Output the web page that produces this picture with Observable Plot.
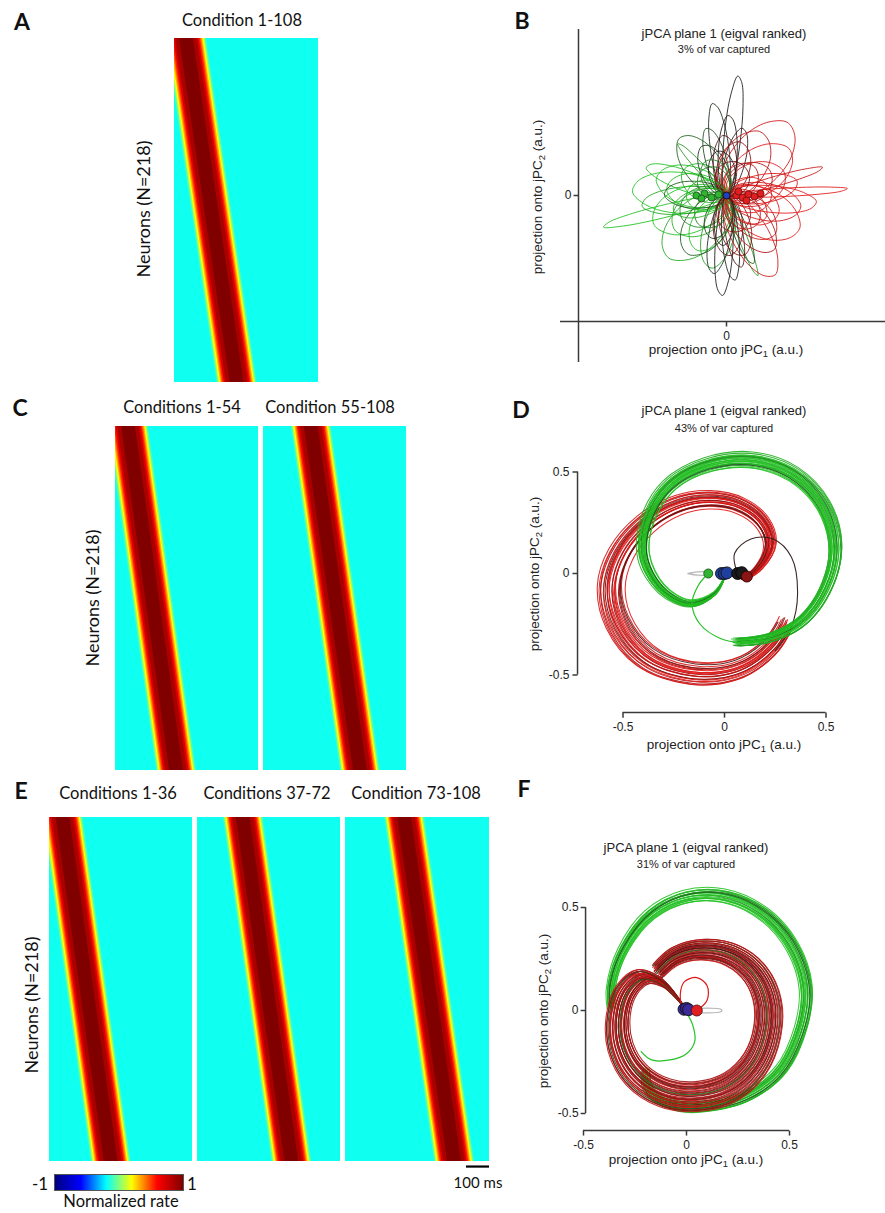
<!DOCTYPE html>
<html><head><meta charset="utf-8">
<script src="https://cdn.jsdelivr.net/npm/d3@7"></script>
<script src="https://cdn.jsdelivr.net/npm/@observablehq/plot@0.6"></script>
<style>
body{margin:0;background:#fff;}
#fig{position:relative;width:885px;height:1213px;overflow:hidden;background:#fff;font-family:"Liberation Sans",Arial,sans-serif;color:#111;}
.t{position:absolute;transform:translate(-50%,-50%);white-space:nowrap;line-height:1;}
.cal{font-family:Lato,"Open Sans",sans-serif;}
.hel{font-family:"Liberation Sans",Arial,sans-serif;color:#222;}
.letter{font-family:Lato,sans-serif;font-weight:bold;font-size:23px;}
.rot{transform:translate(-50%,-50%) rotate(-90deg);}
sub{font-size:70%;vertical-align:-0.3em;line-height:0;}
</style></head><body><div id="fig"></div>
<script>
// ---------------- DATA ----------------
// Heatmaps (A, C, E)
const heatTitles = ["Condition 1-108","Conditions 1-54","Condition 55-108","Conditions 1-36","Conditions 37-72","Condition 73-108"];
const bandCenterFirstNeuronMs = [52, 57, 209, 59, 200, 257];
const bandCenterLastNeuronMs  = [272, 267, 424, 270, 413, 474];
const neuronCount = 218;
const windowMs = 626;
const backgroundRate = -0.22;
const bandRateLevels = [-0.1, 0.1, 0.25, 0.4, 0.55, 0.7, 0.82, 0.92, 1.0];
const bandHalfWidthMs = [87, 81, 76, 71, 66, 61, 55, 47, 30];
const scaleBarMs = 100;
const colorbarLimits = [-1, 1];

// jPCA panel text
const jpcaTitle = "jPCA plane 1 (eigval ranked)";
const varCaptured = ["3%", "43%", "31%"];
const jpcaTicks = [-0.5, 0, 0.5];
const jpcaTicksB = [0];

// Panel B: petal-shaped loops [angle deg, length, half-width fraction, colour tone (-1 green .. 0 black .. 1 red)]
const petalTemplate = [[0,0],[0.08,0.55],[0.3,0.92],[0.6,1.0],[0.85,0.72],[1.0,0.15],[0.95,-0.4],[0.75,-0.85],[0.45,-0.95],[0.18,-0.7],[0.02,-0.25],[0,0]];
const petalsB = [
 [194,1.27,0.05,-1],[176,0.94,0.22,-1],[165,0.72,0.28,-1],[186,0.85,0.16,-0.85],[200,0.78,0.3,-1],
 [212,0.62,0.35,-0.9],[225,0.85,0.3,-0.85],[240,0.62,0.3,-1],[257,0.74,0.22,-0.8],[291,0.86,0.05,-0.75],
 [133,0.71,0.06,-0.7],[150,0.5,0.35,-0.9],[172,0.6,0.3,-0.95],[205,0.5,0.4,-0.7],[160,0.85,0.12,-1],
 [84,1.2,0.07,0],[98,0.93,0.1,-0.1],[76,0.69,0.15,0.1],[106,0.7,0.15,-0.3],[128,0.74,0.25,-0.45],
 [267,1.0,0.09,0],[260,0.79,0.14,-0.15],[281,0.73,0.12,0.2],[235,0.7,0.3,-0.4],[178,0.62,0.22,-0.35],
 [291,0.73,0.1,-0.3],[92,0.6,0.2,0.25],[115,0.55,0.25,-0.2],[272,0.6,0.25,0.3],
 [3,1.21,0.035,1],[16,1.0,0.05,0.85],[48,0.95,0.28,0.9],[334,0.8,0.3,1],[300,0.93,0.2,0.9],
 [60,0.72,0.32,0.8],[35,0.78,0.3,1],[20,0.62,0.35,0.95],[10,0.72,0.2,1],[350,0.75,0.25,0.9],
 [340,0.55,0.35,1],[320,0.62,0.3,0.85],[310,0.72,0.25,0.7],[75,0.55,0.3,0.5],[285,0.62,0.25,0.5],
 [355,0.9,0.15,1],[28,0.5,0.4,0.75],
 [45,0.4,0.4,0.7],[135,0.35,0.45,-0.5],[225,0.4,0.4,-0.6],[315,0.42,0.4,0.8],[100,0.45,0.3,0],
 [250,0.45,0.3,-0.2],[0,0.45,0.4,1],[180,0.4,0.4,-1],[70,0.35,0.5,0.3],[290,0.38,0.45,0.6],
 [195,0.55,0.25,-0.9],[330,0.45,0.35,0.9],[120,0.4,0.35,-0.6],[265,0.5,0.2,0.1],[88,0.8,0.12,0.05],
 [275,0.85,0.1,-0.05]
];
const greenStartsB = [[-0.3,0.0],[-0.22,0.02],[-0.15,-0.02],[-0.08,0.01],[-0.25,-0.03]];
const redStartsB = [[0.1,0.0],[0.16,-0.02],[0.22,0.01],[0.28,-0.01],[0.34,0.02],[0.12,0.04],[0.2,-0.05]];
const blueStartB = [[0,0]];

// Panel D: trajectory templates (jPC1, jPC2) and trials [scale, rotation deg, tone]
const greenPathD = [[0.0,-0.02],[-0.05,-0.1],[-0.17,-0.15],[-0.31,-0.08],[-0.40,0.08],[-0.38,0.27],[-0.27,0.44],[-0.08,0.54],[0.15,0.56],[0.36,0.48],[0.50,0.32],[0.55,0.12],[0.50,-0.08],[0.38,-0.24],[0.22,-0.32],[0.06,-0.34]];
const redPathD = [[0.1,-0.03],[0.18,0.03],[0.24,0.15],[0.2,0.27],[0.08,0.36],[-0.08,0.39],[-0.25,0.36],[-0.42,0.26],[-0.55,0.1],[-0.6,-0.08],[-0.55,-0.28],[-0.4,-0.45],[-0.15,-0.53],[0.08,-0.5],[0.25,-0.38],[0.32,-0.27]];
const greenSoloD = [[-0.08,0.0],[-0.13,-0.06],[-0.16,-0.15],[-0.12,-0.25],[-0.02,-0.32],[0.08,-0.34],[0.2,-0.33]];
const blackSoloD = [[0.25,-0.38],[0.33,-0.26],[0.36,-0.1],[0.33,0.08],[0.24,0.17],[0.13,0.17],[0.05,0.1],[0.06,0.01]];
const grayLoopD = [[-0.18,0],[-0.13,0.008],[-0.07,0.004],[-0.07,-0.004],[-0.13,-0.008],[-0.18,0]];
const greenTrialsD = [[0.93,-2,-1],[0.94,1,-1],[0.95,3,-0.9],[0.96,-1,-1],[0.97,2,-1],[0.97,-3,-0.8],[0.98,0,-1],[0.99,1,-0.6],[1.0,-2,-1],[1.0,2,-1],[1.01,0,-0.9],[1.02,-1,-1],[1.02,3,-0.5],[1.03,1,-1],[1.04,-2,-1],[1.05,0,-0.85],[0.95,0,-0.3],[0.99,-3,-1],[1.01,4,-1],[0.96,2,-0.95],[1.03,-3,-0.7],[0.98,4,-1],[0.94,-4,-1],[1.06,2,-0.9]];
const redTrialsD = [[0.82,2,1],[0.84,-3,0.9],[0.86,1,1],[0.88,4,0.6],[0.89,-2,1],[0.9,0,1],[0.91,3,0.8],[0.92,-1,1],[0.93,2,0.5],[0.94,-4,1],[0.95,1,1],[0.96,-2,0.9],[0.97,3,1],[0.98,0,0.3],[0.99,-1,1],[1.0,2,0.8],[1.01,-3,1],[1.02,1,0.6],[1.03,0,1],[0.85,-2,0.2],[0.92,4,1],[0.96,-1,0.7],[1.04,-2,0.9],[0.87,3,0.4]];
const greenDotD = [[-0.08,0]];
const blueDotsD = [[-0.015,0],[0.0,0],[0.012,0.003]];
const blackDotsD = [[0.065,0],[0.085,0.004]];
const redDotD = [[0.11,-0.015]];

// Panel F
const greenPathF = [[-0.2,-0.3],[-0.18,-0.4],[-0.05,-0.47],[0.12,-0.47],[0.3,-0.42],[0.46,-0.3],[0.56,-0.1],[0.59,0.1],[0.53,0.3],[0.4,0.46],[0.2,0.56],[0.0,0.56],[-0.18,0.47],[-0.31,0.3],[-0.37,0.12],[-0.37,0.02]];
const redPathF = [[0.0,0.0],[-0.06,0.08],[-0.14,0.16],[-0.24,0.19],[-0.33,0.12],[-0.38,-0.02],[-0.37,-0.2],[-0.28,-0.36],[-0.12,-0.46],[0.06,-0.48],[0.24,-0.43],[0.38,-0.3],[0.45,-0.12],[0.45,0.06],[0.38,0.21],[0.25,0.31],[0.08,0.34],[-0.07,0.3],[-0.16,0.22]];
const redLoopF = [[0.05,0],[0.1,0.05],[0.1,0.12],[0.05,0.16],[-0.01,0.14],[-0.03,0.08],[-0.02,0.02],[0.0,0.0]];
const greenSoloF = [[0.0,-0.01],[0.03,-0.07],[0.04,-0.15],[0.0,-0.21],[-0.08,-0.24],[-0.17,-0.24],[-0.22,-0.2]];
const grayLoopF = [[-0.03,0],[0.05,0.01],[0.17,0.004],[0.17,-0.004],[0.05,-0.01],[-0.03,0]];
const greenTrialsF = [[0.93,1,-1],[0.94,-2,-1],[0.95,2,-0.9],[0.96,0,-1],[0.97,-1,-1],[0.97,3,-0.7],[0.98,1,-1],[0.99,-2,-1],[1.0,0,-1],[1.0,2,-0.8],[1.01,-1,-1],[1.02,1,-1],[1.02,-3,-0.6],[1.03,0,-1],[1.04,2,-1],[0.96,-3,-0.95],[0.99,3,-1],[1.01,-2,-0.4],[0.95,0,-1],[1.03,-1,-0.9]];
const redTrialsF = [[0.72,2,0.6],[0.73,-3,0.85],[0.74,1,0.4],[0.75,4,0.7],[0.76,-1,0.9],[0.77,2,0.5],[0.78,-2,0.8],[0.79,0,0.2],[0.8,3,0.9],[0.81,-4,0.5],[0.82,1,0.85],[0.83,-1,0.3],[0.84,2,0.7],[0.85,-3,0.55],[0.86,0,0.9],[0.87,4,0.35],[0.88,-2,0.85],[0.89,1,0.6],[0.9,-1,0.1],[0.91,3,0.9],[0.92,-2,0.45],[0.93,0,0.8],[0.94,2,0.65],[0.95,-3,0.25],[0.96,1,0.85],[0.97,-1,0.5],[0.98,2,0.9],[0.99,0,-0.3],[1.0,-2,0.7],[1.01,1,0.45],[1.02,-1,0.8],[0.85,3,-0.5],[0.77,-4,0.4],[0.9,4,0.55]];
const blueDotsF = [[-0.012,0.006],[0.0,0.01],[0.01,0.004]];
const redDotF = [[0.05,0]];

// ---------------- STYLES / LAYOUT ----------------
const jet = {type:"linear", domain:[-1,-0.75,-0.25,0.25,0.75,1], range:["#000080","#0000ff","#00ffff","#ffff00","#ff0000","#800000"], interpolate:"rgb"};
const toneColor = {type:"linear", domain:[-1,-0.5,0,0.5,1], range:["#22c222","#246e24","#1c1c1c","#8e1212","#e01a1a"], interpolate:"rgb"};
const heatLayout = [
  {x:174,y:38,w:144,h:344},
  {x:115,y:426,w:143,h:344},{x:263,y:426,w:143,h:344},
  {x:49,y:817,w:143,h:344},{x:197,y:817,w:143,h:344},{x:345,y:817,w:144,h:344}
];
const fig = document.getElementById("fig");
function put(el, x, y){ el.style.position="absolute"; el.style.left=x+"px"; el.style.top=y+"px"; fig.appendChild(el); return el; }
function label(html, x, y, cls, css){ const d=document.createElement("div"); d.className="t "+(cls||""); d.innerHTML=html; d.style.left=x+"px"; d.style.top=y+"px"; if(css) d.style.cssText += css; fig.appendChild(d); return d; }

// ---------------- HEATMAPS ----------------
function heatmap(i, withScaleBar){
  const L = heatLayout[i];
  const rows = [];
  bandRateLevels.forEach((v,k)=>{
    rows.push({n:0, lo:bandCenterFirstNeuronMs[i]-bandHalfWidthMs[k], hi:bandCenterFirstNeuronMs[i]+bandHalfWidthMs[k], v, k});
    rows.push({n:neuronCount, lo:bandCenterLastNeuronMs[i]-bandHalfWidthMs[k], hi:bandCenterLastNeuronMs[i]+bandHalfWidthMs[k], v, k});
  });
  const marks = [
    Plot.rect([{v:backgroundRate}], {x1:0, x2:windowMs, y1:0, y2:neuronCount, fill:"v"}),
    Plot.areaX(rows, {y:"n", x1:"lo", x2:"hi", fill:"v", z:"k", clip:true})
  ];
  if (withScaleBar) {
    marks.push(Plot.ruleY([neuronCount + 3.2], {x1: windowMs - scaleBarMs, x2: windowMs, stroke:"#000", strokeWidth:2.2}));
    marks.push(Plot.text([`${scaleBarMs} ms`], {x: windowMs - scaleBarMs/2, y: neuronCount, dy: 22, text: d=>d, fontSize: 15, fill:"#111", fontFamily:"Lato"}));
  }
  const svg = Plot.plot({
    width: L.w, height: L.h + (withScaleBar ? 40 : 0), marginTop:0, marginLeft:0, marginRight:0, marginBottom: withScaleBar ? 40 : 0,
    x:{domain:[0, windowMs], axis:null},
    y:{domain:[0, neuronCount], reverse:true, axis:null},
    color: jet,
    style:{overflow:"visible", background:"transparent"},
    marks
  });
  put(svg, L.x, L.y);
}
heatLayout.forEach((L,i)=>heatmap(i, i===5));

// heatmap titles & labels
const titlePos = [[242,20],[182,407],[330,407],[118,793],[267,793],[416,793]];
heatTitles.forEach((t,i)=>label(t, titlePos[i][0], titlePos[i][1], "cal", "font-size:16.5px;"));
[[143,209],[92,598],[31,1005]].forEach(([x,y])=>label("Neurons (N=218)", x, y, "cal rot", "font-size:18px;"));

// colorbar legend
const cb = Plot.legend({color: jet, legend:"ramp", width:128, height:15, marginTop:0, marginBottom:0, marginLeft:0, marginRight:0, ticks:0, tickSize:0, label:null});
const cbWrap = document.createElement("div");
cbWrap.style.cssText = "width:128px;height:15px;overflow:hidden;outline:1px solid #555;";
cbWrap.appendChild(cb);
put(cbWrap, 55, 1175);
label(String(colorbarLimits[0]), 40, 1183, "cal", "font-size:17px;");
label(String(colorbarLimits[1]), 192, 1183, "cal", "font-size:17px;");
label("Normalized rate", 121, 1201, "cal", "font-size:16.5px;");

// ---------------- TRAJECTORIES ----------------
function buildTrials(template, trials, prefix){
  const rows = [];
  trials.forEach(([s, rot, tone], i) => {
    const a = rot*Math.PI/180, c = Math.cos(a), sn = Math.sin(a);
    template.forEach(([u,v]) => rows.push({id: prefix+i, tone, u: s*(u*c - v*sn), v: s*(u*sn + v*c)}));
  });
  return rows;
}
function buildPath(template, tone, id){ return template.map(([u,v])=>({id, tone, u, v})); }
function buildPetals(petals){
  const rows = [];
  petals.forEach(([ang, len, w, tone], i) => {
    const a = ang*Math.PI/180, c = Math.cos(a), sn = Math.sin(a);
    petalTemplate.forEach(([p,q]) => { const x = p*len, y = q*w*len; rows.push({id:"p"+i, tone, u: x*c - y*sn, v: x*sn + y*c}); });
  });
  return rows;
}
function axesMarks(ax){
  const st = {stroke:"#3a3a3a", strokeWidth:1.5};
  return [
    Plot.ruleX([ax.yAxisU], {y1: ax.yLine[0], y2: ax.yLine[1], ...st}),
    Plot.ruleY([ax.xAxisV], {x1: ax.xLine[0], x2: ax.xLine[1], ...st}),
    Plot.link(ax.xTicks, {x1: d=>d, x2: d=>d, y1: ax.xAxisV, y2: ax.xAxisV - ax.tick, ...st}),
    Plot.link(ax.yTicks, {y1: d=>d, y2: d=>d, x1: ax.yAxisU, x2: ax.yAxisU - ax.tick, ...st}),
    Plot.text(ax.xTicks, {x: d=>d, y: ax.xAxisV, dy: ax.xdy, text: d=>String(d), fontSize: 12, fill:"#222"}),
    Plot.text(ax.yTicks, {x: ax.yAxisU, y: d=>d, dx: ax.ydx, textAnchor:"end", text: d=>String(d), fontSize: 12, fill:"#222"})
  ];
}
function lineMark(rows, w, op){ return Plot.line(rows, {x:"u", y:"v", z:"id", stroke:"tone", strokeWidth:w, strokeOpacity:op, curve:"catmull-rom"}); }
function dotMark(pts, r, fill, stroke){ return Plot.dot(pts, {x:d=>d[0], y:d=>d[1], r, fill, stroke, strokeWidth:0.9}); }
function trajPlot(R, marks){
  const svg = Plot.plot({
    width: R.x1-R.x0, height: R.y1-R.y0, margin:0,
    x:{domain:[(R.x0-R.cx)/R.k, (R.x1-R.cx)/R.k], axis:null},
    y:{domain:[(R.cy-R.y1)/R.k, (R.cy-R.y0)/R.k], axis:null},
    color: toneColor,
    style:{overflow:"visible", fontFamily:"Liberation Sans, Arial, sans-serif", background:"transparent"},
    marks
  });
  put(svg, R.x0, R.y0);
}

// Panel B
const RB = {x0:540, y0:20, x1:885, y1:372, cx:726, cy:195, k:100};
trajPlot(RB, [
  ...axesMarks({yAxisU:-1.48, xAxisV:-1.26, yLine:[-1.67,1.66], xLine:[-1.66,1.59], xTicks:jpcaTicksB, yTicks:jpcaTicksB, tick:0.05, xdy:15, ydx:-7}),
  lineMark(buildPetals(petalsB), 1.0, 0.88),
  dotMark(greenStartsB, 3.5, "#2fb52f", "#1d5a1d"),
  dotMark(redStartsB, 3.5, "#e02020", "#7a1010"),
  dotMark(blueStartB, 3.5, "#2040c0", "#111")
]);

// Panel D
const RD = {x0:540, y0:440, x1:885, y1:740, cx:724, cy:573, k:203};
trajPlot(RD, [
  ...axesMarks({yAxisU:-0.724, xAxisV:-0.685, yLine:[-0.5,0.5], xLine:[-0.5,0.5], xTicks:jpcaTicks, yTicks:jpcaTicks, tick:0.025, xdy:15, ydx:-8}),
  lineMark(buildTrials(redPathD, redTrialsD, "r"), 1.05, 0.9),
  lineMark(buildPath(blackSoloD, 0.1, "bk"), 1.1, 0.95),
  lineMark(buildTrials(greenPathD, greenTrialsD, "g"), 1.05, 0.9),
  lineMark(buildPath(greenSoloD, -1, "gs"), 1.2, 1),
  Plot.line(grayLoopD, {x:d=>d[0], y:d=>d[1], stroke:"#b8b8b8", strokeWidth:1.3, curve:"catmull-rom"}),
  dotMark(greenDotD, 4.5, "#2fb52f", "#1d5a1d"),
  dotMark(blueDotsD, 6, "#1f3f9f", "#111"),
  dotMark(blackDotsD, 6, "#1a1a1a", "#000"),
  dotMark(redDotD, 5.5, "#8a1515", "#300")
]);

// Panel F
const RF = {x0:540, y0:875, x1:885, y1:1150, cx:686, cy:1010, k:206};
trajPlot(RF, [
  ...axesMarks({yAxisU:-0.49, xAxisV:-0.583, yLine:[-0.5,0.5], xLine:[-0.5,0.5], xTicks:jpcaTicks, yTicks:jpcaTicks, tick:0.024, xdy:15, ydx:-7}),
  lineMark(buildTrials(greenPathF, greenTrialsF, "g"), 1.05, 0.9),
  lineMark(buildTrials(redPathF, redTrialsF, "r"), 1.1, 0.9),
  lineMark(buildPath(greenSoloF, -1, "gs"), 1.2, 1),
  lineMark(buildPath(redLoopF, 1, "rl"), 1.2, 1),
  Plot.line(grayLoopF, {x:d=>d[0], y:d=>d[1], stroke:"#b8b8b8", strokeWidth:1.3, curve:"catmull-rom"}),
  dotMark(blueDotsF, 6, "#3a2a9a", "#111"),
  dotMark(redDotF, 5.5, "#e02020", "#601010")
]);

// jPCA titles and axis labels
[[724,33,49],[724,410,428],[686,847,864]].forEach(([x,y1,y2],i)=>{
  label(jpcaTitle, x, y1, "hel", "font-size:13px;");
  label(`${varCaptured[i]} of var captured`, x, y2, "hel", "font-size:11px;");
});
[[538,197],[535,574],[544,1011]].forEach(([x,y])=>label("projection onto jPC<sub>2</sub> (a.u.)", x, y, "hel rot", "font-size:13.5px;"));
[[726,350],[724,745],[686,1160]].forEach(([x,y])=>label("projection onto jPC<sub>1</sub> (a.u.)", x, y, "hel", "font-size:13.5px;"));

// panel letters
[["A",22,21],["B",522,20],["C",20,407],["D",521,409],["E",21,790],["F",524,788]].forEach(([t,x,y])=>label(t,x,y,"letter"));
</script></body></html>
